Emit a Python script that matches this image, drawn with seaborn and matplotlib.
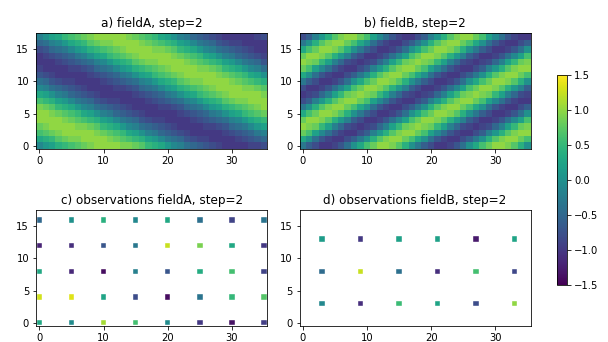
"""
Fields and their observations, step=2
"""

import numpy as np
import pandas as pd
import matplotlib
matplotlib.use("Agg")
import matplotlib.pyplot as plt
import seaborn as sns
from matplotlib.colors import Normalize
from matplotlib.cm import ScalarMappable

# gridded fields, first row is y=0 (bottom)
field_a = [
    [-0.1, 0.1, 0.2, 0.4, 0.5, 0.6, 0.7, 0.8, 0.9, 1.0, 1.0, 1.0, 1.0, 0.9, 0.9, 0.8, 0.7, 0.5, 0.4, 0.3, 0.1, -0.1, -0.2, -0.4, -0.5, -0.6, -0.7, -0.8, -0.9, -1.0, -1.0, -1.0, -1.0, -0.9, -0.9, -0.8],
    [0.3, 0.4, 0.5, 0.7, 0.8, 0.9, 0.9, 1.0, 1.0, 1.0, 1.0, 0.9, 0.8, 0.7, 0.6, 0.5, 0.4, 0.2, 0.1, -0.1, -0.3, -0.4, -0.5, -0.7, -0.8, -0.9, -0.9, -1.0, -1.0, -1.0, -1.0, -0.9, -0.8, -0.7, -0.6, -0.5],
    [0.6, 0.7, 0.8, 0.9, 1.0, 1.0, 1.0, 1.0, 1.0, 0.9, 0.8, 0.7, 0.6, 0.5, 0.3, 0.2, 0.0, -0.2, -0.3, -0.5, -0.6, -0.7, -0.8, -0.9, -1.0, -1.0, -1.0, -1.0, -1.0, -0.9, -0.8, -0.7, -0.6, -0.5, -0.3, -0.2],
    [0.8, 0.9, 1.0, 1.0, 1.0, 1.0, 0.9, 0.9, 0.8, 0.7, 0.5, 0.4, 0.3, 0.1, -0.1, -0.2, -0.4, -0.5, -0.6, -0.7, -0.8, -0.9, -1.0, -1.0, -1.0, -1.0, -0.9, -0.9, -0.8, -0.7, -0.5, -0.4, -0.3, -0.1, 0.1, 0.2],
    [1.0, 1.0, 1.0, 1.0, 0.9, 0.8, 0.7, 0.6, 0.5, 0.4, 0.2, 0.1, -0.1, -0.3, -0.4, -0.5, -0.7, -0.8, -0.9, -0.9, -1.0, -1.0, -1.0, -1.0, -0.9, -0.8, -0.7, -0.6, -0.5, -0.4, -0.2, -0.1, 0.1, 0.3, 0.4, 0.5],
    [1.0, 1.0, 0.9, 0.8, 0.7, 0.6, 0.5, 0.3, 0.2, 0.0, -0.2, -0.3, -0.5, -0.6, -0.7, -0.8, -0.9, -1.0, -1.0, -1.0, -1.0, -1.0, -0.9, -0.8, -0.7, -0.6, -0.5, -0.3, -0.2, 0.0, 0.2, 0.3, 0.5, 0.6, 0.7, 0.8],
    [0.9, 0.8, 0.7, 0.5, 0.4, 0.3, 0.1, -0.1, -0.2, -0.4, -0.5, -0.6, -0.7, -0.8, -0.9, -1.0, -1.0, -1.0, -1.0, -0.9, -0.9, -0.8, -0.7, -0.5, -0.4, -0.3, -0.1, 0.1, 0.2, 0.4, 0.5, 0.6, 0.7, 0.8, 0.9, 1.0],
    [0.6, 0.5, 0.4, 0.2, 0.1, -0.1, -0.3, -0.4, -0.5, -0.7, -0.8, -0.9, -0.9, -1.0, -1.0, -1.0, -1.0, -0.9, -0.8, -0.7, -0.6, -0.5, -0.4, -0.2, -0.1, 0.1, 0.3, 0.4, 0.5, 0.7, 0.8, 0.9, 0.9, 1.0, 1.0, 1.0],
    [0.3, 0.2, 0.0, -0.2, -0.3, -0.5, -0.6, -0.7, -0.8, -0.9, -1.0, -1.0, -1.0, -1.0, -1.0, -0.9, -0.8, -0.7, -0.6, -0.5, -0.3, -0.2, 0.0, 0.2, 0.3, 0.5, 0.6, 0.7, 0.8, 0.9, 1.0, 1.0, 1.0, 1.0, 1.0, 0.9],
    [-0.1, -0.2, -0.4, -0.5, -0.6, -0.7, -0.8, -0.9, -1.0, -1.0, -1.0, -1.0, -0.9, -0.9, -0.8, -0.7, -0.5, -0.4, -0.3, -0.1, 0.1, 0.2, 0.4, 0.5, 0.6, 0.7, 0.8, 0.9, 1.0, 1.0, 1.0, 1.0, 0.9, 0.9, 0.8, 0.7],
    [-0.4, -0.5, -0.7, -0.8, -0.9, -0.9, -1.0, -1.0, -1.0, -1.0, -0.9, -0.8, -0.7, -0.6, -0.5, -0.4, -0.2, -0.1, 0.1, 0.3, 0.4, 0.5, 0.7, 0.8, 0.9, 0.9, 1.0, 1.0, 1.0, 1.0, 0.9, 0.8, 0.7, 0.6, 0.5, 0.4],
    [-0.7, -0.8, -0.9, -1.0, -1.0, -1.0, -1.0, -1.0, -0.9, -0.8, -0.7, -0.6, -0.5, -0.3, -0.2, 0.0, 0.2, 0.3, 0.5, 0.6, 0.7, 0.8, 0.9, 1.0, 1.0, 1.0, 1.0, 1.0, 0.9, 0.8, 0.7, 0.6, 0.5, 0.3, 0.2, 0.0],
    [-0.9, -1.0, -1.0, -1.0, -1.0, -0.9, -0.9, -0.8, -0.7, -0.5, -0.4, -0.3, -0.1, 0.1, 0.2, 0.4, 0.5, 0.6, 0.7, 0.8, 0.9, 1.0, 1.0, 1.0, 1.0, 0.9, 0.9, 0.8, 0.7, 0.5, 0.4, 0.3, 0.1, -0.1, -0.2, -0.4],
    [-1.0, -1.0, -1.0, -0.9, -0.8, -0.7, -0.6, -0.5, -0.4, -0.2, -0.1, 0.1, 0.3, 0.4, 0.5, 0.7, 0.8, 0.9, 0.9, 1.0, 1.0, 1.0, 1.0, 0.9, 0.8, 0.7, 0.6, 0.5, 0.4, 0.2, 0.1, -0.1, -0.3, -0.4, -0.5, -0.7],
    [-1.0, -0.9, -0.8, -0.7, -0.6, -0.5, -0.3, -0.2, 0.0, 0.2, 0.3, 0.5, 0.6, 0.7, 0.8, 0.9, 1.0, 1.0, 1.0, 1.0, 1.0, 0.9, 0.8, 0.7, 0.6, 0.5, 0.3, 0.2, 0.0, -0.2, -0.3, -0.5, -0.6, -0.7, -0.8, -0.9],
    [-0.8, -0.7, -0.5, -0.4, -0.3, -0.1, 0.1, 0.2, 0.4, 0.5, 0.6, 0.7, 0.8, 0.9, 1.0, 1.0, 1.0, 1.0, 0.9, 0.9, 0.8, 0.7, 0.5, 0.4, 0.3, 0.1, -0.1, -0.2, -0.4, -0.5, -0.6, -0.7, -0.8, -0.9, -1.0, -1.0],
    [-0.5, -0.4, -0.2, -0.1, 0.1, 0.3, 0.4, 0.5, 0.7, 0.8, 0.9, 0.9, 1.0, 1.0, 1.0, 1.0, 0.9, 0.8, 0.7, 0.6, 0.5, 0.4, 0.2, 0.1, -0.1, -0.3, -0.4, -0.5, -0.7, -0.8, -0.9, -0.9, -1.0, -1.0, -1.0, -1.0],
    [-0.2, 0.0, 0.2, 0.3, 0.5, 0.6, 0.7, 0.8, 0.9, 1.0, 1.0, 1.0, 1.0, 1.0, 0.9, 0.8, 0.7, 0.6, 0.5, 0.3, 0.2, 0.0, -0.2, -0.3, -0.5, -0.6, -0.7, -0.8, -0.9, -1.0, -1.0, -1.0, -1.0, -1.0, -0.9, -0.8],
]

field_b = [
    [-0.3, -0.6, -0.8, -1.0, -1.0, -0.9, -0.7, -0.4, 0.0, 0.3, 0.6, 0.8, 1.0, 1.0, 0.9, 0.7, 0.4, 0.0, -0.3, -0.6, -0.8, -1.0, -1.0, -0.9, -0.7, -0.4, 0.0, 0.3, 0.6, 0.8, 1.0, 1.0, 0.9, 0.7, 0.4, 0.0],
    [0.3, 0.0, -0.4, -0.7, -0.9, -1.0, -1.0, -0.8, -0.6, -0.3, 0.0, 0.4, 0.7, 0.9, 1.0, 1.0, 0.8, 0.6, 0.3, 0.0, -0.4, -0.7, -0.9, -1.0, -1.0, -0.8, -0.6, -0.3, 0.0, 0.4, 0.7, 0.9, 1.0, 1.0, 0.8, 0.6],
    [0.8, 0.6, 0.2, -0.1, -0.4, -0.7, -0.9, -1.0, -1.0, -0.8, -0.6, -0.2, 0.1, 0.4, 0.7, 0.9, 1.0, 1.0, 0.8, 0.6, 0.2, -0.1, -0.4, -0.7, -0.9, -1.0, -1.0, -0.8, -0.6, -0.2, 0.1, 0.4, 0.7, 0.9, 1.0, 1.0],
    [1.0, 0.9, 0.8, 0.5, 0.2, -0.2, -0.5, -0.8, -0.9, -1.0, -0.9, -0.8, -0.5, -0.2, 0.2, 0.5, 0.8, 0.9, 1.0, 0.9, 0.8, 0.5, 0.2, -0.2, -0.5, -0.8, -0.9, -1.0, -0.9, -0.8, -0.5, -0.2, 0.2, 0.5, 0.8, 0.9],
    [0.8, 1.0, 1.0, 0.9, 0.7, 0.4, 0.1, -0.2, -0.6, -0.8, -1.0, -1.0, -0.9, -0.7, -0.4, -0.1, 0.2, 0.6, 0.8, 1.0, 1.0, 0.9, 0.7, 0.4, 0.1, -0.2, -0.6, -0.8, -1.0, -1.0, -0.9, -0.7, -0.4, -0.1, 0.2, 0.6],
    [0.3, 0.6, 0.8, 1.0, 1.0, 0.9, 0.7, 0.4, 0.0, -0.3, -0.6, -0.8, -1.0, -1.0, -0.9, -0.7, -0.4, 0.0, 0.3, 0.6, 0.8, 1.0, 1.0, 0.9, 0.7, 0.4, 0.0, -0.3, -0.6, -0.8, -1.0, -1.0, -0.9, -0.7, -0.4, 0.0],
    [-0.3, 0.0, 0.4, 0.7, 0.9, 1.0, 1.0, 0.8, 0.6, 0.3, 0.0, -0.4, -0.7, -0.9, -1.0, -1.0, -0.8, -0.6, -0.3, 0.0, 0.4, 0.7, 0.9, 1.0, 1.0, 0.8, 0.6, 0.3, 0.0, -0.4, -0.7, -0.9, -1.0, -1.0, -0.8, -0.6],
    [-0.8, -0.6, -0.2, 0.1, 0.4, 0.7, 0.9, 1.0, 1.0, 0.8, 0.6, 0.2, -0.1, -0.4, -0.7, -0.9, -1.0, -1.0, -0.8, -0.6, -0.2, 0.1, 0.4, 0.7, 0.9, 1.0, 1.0, 0.8, 0.6, 0.2, -0.1, -0.4, -0.7, -0.9, -1.0, -1.0],
    [-1.0, -0.9, -0.8, -0.5, -0.2, 0.2, 0.5, 0.8, 0.9, 1.0, 0.9, 0.8, 0.5, 0.2, -0.2, -0.5, -0.8, -0.9, -1.0, -0.9, -0.8, -0.5, -0.2, 0.2, 0.5, 0.8, 0.9, 1.0, 0.9, 0.8, 0.5, 0.2, -0.2, -0.5, -0.8, -0.9],
    [-0.8, -1.0, -1.0, -0.9, -0.7, -0.4, -0.1, 0.2, 0.6, 0.8, 1.0, 1.0, 0.9, 0.7, 0.4, 0.1, -0.2, -0.6, -0.8, -1.0, -1.0, -0.9, -0.7, -0.4, -0.1, 0.2, 0.6, 0.8, 1.0, 1.0, 0.9, 0.7, 0.4, 0.1, -0.2, -0.6],
    [-0.3, -0.6, -0.8, -1.0, -1.0, -0.9, -0.7, -0.4, 0.0, 0.3, 0.6, 0.8, 1.0, 1.0, 0.9, 0.7, 0.4, 0.0, -0.3, -0.6, -0.8, -1.0, -1.0, -0.9, -0.7, -0.4, 0.0, 0.3, 0.6, 0.8, 1.0, 1.0, 0.9, 0.7, 0.4, 0.0],
    [0.3, 0.0, -0.4, -0.7, -0.9, -1.0, -1.0, -0.8, -0.6, -0.3, 0.0, 0.4, 0.7, 0.9, 1.0, 1.0, 0.8, 0.6, 0.3, 0.0, -0.4, -0.7, -0.9, -1.0, -1.0, -0.8, -0.6, -0.3, 0.0, 0.4, 0.7, 0.9, 1.0, 1.0, 0.8, 0.6],
    [0.8, 0.6, 0.2, -0.1, -0.4, -0.7, -0.9, -1.0, -1.0, -0.8, -0.6, -0.2, 0.1, 0.4, 0.7, 0.9, 1.0, 1.0, 0.8, 0.6, 0.2, -0.1, -0.4, -0.7, -0.9, -1.0, -1.0, -0.8, -0.6, -0.2, 0.1, 0.4, 0.7, 0.9, 1.0, 1.0],
    [1.0, 0.9, 0.8, 0.5, 0.2, -0.2, -0.5, -0.8, -0.9, -1.0, -0.9, -0.8, -0.5, -0.2, 0.2, 0.5, 0.8, 0.9, 1.0, 0.9, 0.8, 0.5, 0.2, -0.2, -0.5, -0.8, -0.9, -1.0, -0.9, -0.8, -0.5, -0.2, 0.2, 0.5, 0.8, 0.9],
    [0.8, 1.0, 1.0, 0.9, 0.7, 0.4, 0.1, -0.2, -0.6, -0.8, -1.0, -1.0, -0.9, -0.7, -0.4, -0.1, 0.2, 0.6, 0.8, 1.0, 1.0, 0.9, 0.7, 0.4, 0.1, -0.2, -0.6, -0.8, -1.0, -1.0, -0.9, -0.7, -0.4, -0.1, 0.2, 0.6],
    [0.3, 0.6, 0.8, 1.0, 1.0, 0.9, 0.7, 0.4, 0.0, -0.3, -0.6, -0.8, -1.0, -1.0, -0.9, -0.7, -0.4, 0.0, 0.3, 0.6, 0.8, 1.0, 1.0, 0.9, 0.7, 0.4, 0.0, -0.3, -0.6, -0.8, -1.0, -1.0, -0.9, -0.7, -0.4, 0.0],
    [-0.3, 0.0, 0.4, 0.7, 0.9, 1.0, 1.0, 0.8, 0.6, 0.3, 0.0, -0.4, -0.7, -0.9, -1.0, -1.0, -0.8, -0.6, -0.3, 0.0, 0.4, 0.7, 0.9, 1.0, 1.0, 0.8, 0.6, 0.3, 0.0, -0.4, -0.7, -0.9, -1.0, -1.0, -0.8, -0.6],
    [-0.8, -0.6, -0.2, 0.1, 0.4, 0.7, 0.9, 1.0, 1.0, 0.8, 0.6, 0.2, -0.1, -0.4, -0.7, -0.9, -1.0, -1.0, -0.8, -0.6, -0.2, 0.1, 0.4, 0.7, 0.9, 1.0, 1.0, 0.8, 0.6, 0.2, -0.1, -0.4, -0.7, -0.9, -1.0, -1.0],
]

# observations of fieldA, one row per y
obs_a_x = [0, 5, 10, 15, 20, 25, 30, 35]
obs_a_y = [0, 4, 8, 12, 16]
obs_a = [
    [0.3, -0.05, 1.1, 0.6, -0.05, -1.0, -1.35, -0.95],
    [1.3, 1.35, 0.25, -0.8, -1.4, -0.35, 0.5, 0.7],
    [0.3, -1.15, -1.4, -0.2, -0.7, 0.35, 0.6, -0.9],
    [-1.2, -1.1, -0.7, -0.3, 1.25, 0.9, 0.3, -1.0],
    [-0.5, 0.0, 0.4, -0.1, 0.3, -0.4, -0.9, -0.35],
]

# observations of fieldB
obs_b_x = [3, 9, 15, 21, 27, 33]
obs_b_y = [3, 8, 13]
obs_b = [
    [-0.1, -1.1, 0.55, 0.25, -0.8, 1.0],
    [-0.45, 1.25, -0.4, -1.1, 0.6, -0.85],
    [0.15, -1.0, 0.2, 0.2, -1.3, 0.25],
]

x_ticks = [0, 10, 20, 30]
y_ticks = [0, 5, 10, 15]
cbar_ticks = [-1.5, -1.0, -0.5, 0.0, 0.5, 1.0, 1.5]
titles = ["a) fieldA, step=2", "b) fieldB, step=2",
          "c) observations fieldA, step=2", "d) observations fieldB, step=2"]
vmin, vmax = -1.5, 1.5


def draw_field(ax, grid, title):
    """Gridded field drawn as a heatmap, origin at the bottom"""
    sns.heatmap(np.array(grid), ax=ax, cmap="viridis", vmin=vmin, vmax=vmax,
                cbar=False, xticklabels=False, yticklabels=False)
    ax.invert_yaxis()
    # heatmap cells sit on [i, i+1], so ticks go to the cell centres
    ax.set_xticks([t + 0.5 for t in x_ticks], [str(t) for t in x_ticks])
    ax.set_yticks([t + 0.5 for t in y_ticks], [str(t) for t in y_ticks])
    ax.tick_params(axis="both", labelrotation=0, length=3.5, width=0.8, labelsize=10)
    for spine in ax.spines.values():
        spine.set_visible(True)
        spine.set_linewidth(0.8)
    ax.set_title(title, fontsize=12)


def draw_obs(ax, xs, ys, vals, title):
    """Observation points as small squares"""
    rows = [(x, y, v) for y, row in zip(ys, vals) for x, v in zip(xs, row)]
    df = pd.DataFrame(rows, columns=["x", "y", "value"])
    sns.scatterplot(data=df, x="x", y="y", hue="value", palette="viridis",
                    hue_norm=(vmin, vmax), marker="s", s=30, linewidth=0.4,
                    legend=False, ax=ax)
    ax.set_xlim(-0.5, 35.5)
    ax.set_ylim(-0.5, 17.5)
    ax.set_xticks(x_ticks)
    ax.set_yticks(y_ticks)
    ax.set_xlabel("")
    ax.set_ylabel("")
    ax.tick_params(axis="both", length=3.5, width=0.8, labelsize=10)
    ax.set_title(title, fontsize=12)


fig = plt.figure(figsize=(608 / 72, 342 / 72), dpi=72)
ax_a = fig.add_axes([0.0594, 0.5646, 0.3801, 0.3380])
ax_b = fig.add_axes([0.4926, 0.5646, 0.3801, 0.3380])
ax_c = fig.add_axes([0.0594, 0.0471, 0.3801, 0.3380])
ax_d = fig.add_axes([0.4926, 0.0471, 0.3801, 0.3380])
cax = fig.add_axes([0.9161, 0.1667, 0.0164, 0.6140])

draw_field(ax_a, field_a, titles[0])
draw_field(ax_b, field_b, titles[1])
draw_obs(ax_c, obs_a_x, obs_a_y, obs_a, titles[2])
draw_obs(ax_d, obs_b_x, obs_b_y, obs_b, titles[3])

sm = ScalarMappable(norm=Normalize(vmin, vmax), cmap="viridis")
cb = fig.colorbar(sm, cax=cax, ticks=cbar_ticks)
cb.ax.tick_params(labelsize=10, length=3.5, width=0.8)
cb.outline.set_linewidth(0.8)

fig.savefig("out.png", dpi=72)
